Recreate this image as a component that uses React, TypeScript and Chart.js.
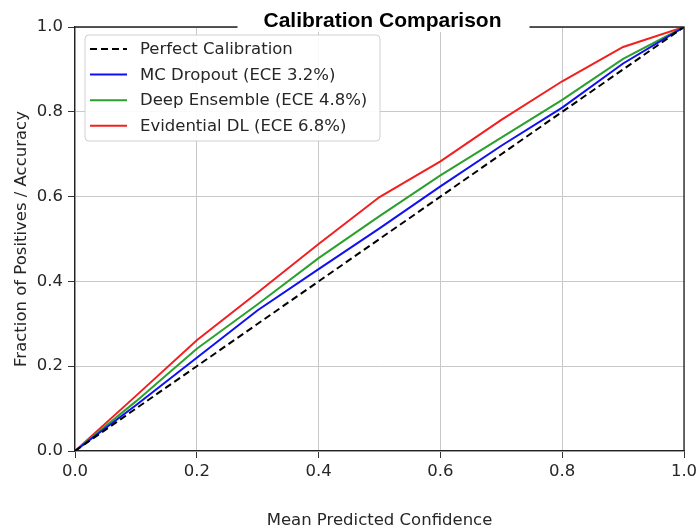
import React, { useEffect, useRef } from "react";
import { Chart, registerables } from "chart.js";

Chart.register(...registerables);

const titleText = "Calibration Comparison";
const xTitle = "Mean Predicted Confidence";
const yTitle = "Fraction of Positives / Accuracy";

const confidence = [0, 0.1, 0.2, 0.3, 0.4, 0.5, 0.6, 0.7, 0.8, 0.9, 1.0];
const perfect = [0, 0.1, 0.2, 0.3, 0.4, 0.5, 0.6, 0.7, 0.8, 0.9, 1.0];
const mcDropout = [0, 0.108, 0.22, 0.332, 0.429, 0.525, 0.624, 0.72, 0.81, 0.914, 1.0];
const deepEnsemble = [0, 0.117, 0.241, 0.346, 0.455, 0.554, 0.65, 0.739, 0.828, 0.925, 1.0];
const evidential = [0, 0.13, 0.261, 0.374, 0.488, 0.599, 0.683, 0.781, 0.872, 0.953, 1.0];

const seriesLabels = [
  "Perfect Calibration",
  "MC Dropout (ECE 3.2%)",
  "Deep Ensemble (ECE 4.8%)",
  "Evidential DL (ECE 6.8%)",
];
const tickValues = [0, 0.2, 0.4, 0.6, 0.8, 1.0];

const FONT = "'DejaVu Sans', sans-serif";
const FS = 16.5;

const toPoints = (ys: number[]) => confidence.map((x, i) => ({ x, y: ys[i] }));

const decorPlugin = {
  id: "decor",
  afterDatasetsDraw(chart: any) {
    const { ctx, chartArea: a } = chart;
    ctx.save();
    // top & right spines
    ctx.strokeStyle = "#222";
    ctx.lineWidth = 1.3;
    ctx.beginPath();
    ctx.moveTo(a.left, a.top);
    ctx.lineTo(a.right, a.top);
    ctx.lineTo(a.right, a.bottom);
    ctx.stroke();

    // legend box
    const lx = a.left + 10, ly = a.top + 8, lw = 295, lh = 106, r = 4;
    ctx.beginPath();
    ctx.moveTo(lx + r, ly);
    ctx.lineTo(lx + lw - r, ly);
    ctx.quadraticCurveTo(lx + lw, ly, lx + lw, ly + r);
    ctx.lineTo(lx + lw, ly + lh - r);
    ctx.quadraticCurveTo(lx + lw, ly + lh, lx + lw - r, ly + lh);
    ctx.lineTo(lx + r, ly + lh);
    ctx.quadraticCurveTo(lx, ly + lh, lx, ly + lh - r);
    ctx.lineTo(lx, ly + r);
    ctx.quadraticCurveTo(lx, ly, lx + r, ly);
    ctx.closePath();
    ctx.fillStyle = "rgba(255,255,255,0.9)";
    ctx.fill();
    ctx.strokeStyle = "#d0d0d0";
    ctx.lineWidth = 1;
    ctx.stroke();

    ctx.font = `${FS}px ${FONT}`;
    ctx.textBaseline = "middle";
    ctx.textAlign = "left";
    chart.data.datasets.forEach((ds: any, i: number) => {
      const cy = ly + 14 + i * 25.6;
      ctx.beginPath();
      ctx.setLineDash(ds.borderDash || []);
      ctx.strokeStyle = ds.borderColor;
      ctx.lineWidth = 2;
      ctx.moveTo(lx + 5, cy);
      ctx.lineTo(lx + 42, cy);
      ctx.stroke();
      ctx.setLineDash([]);
      ctx.fillStyle = "#262626";
      ctx.fillText(ds.label, lx + 55, cy + 1);
    });

    // title with white mask over the top spine
    const cx = (a.left + a.right) / 2 + 3;
    ctx.fillStyle = "#ffffff";
    ctx.fillRect(cx - 145, 0, 292, a.top + 5);
    ctx.font = `bold 21px 'Liberation Sans', Arial, sans-serif`;
    ctx.textAlign = "center";
    ctx.textBaseline = "alphabetic";
    ctx.fillStyle = "#000";
    ctx.fillText(titleText, cx, a.top - 0.5);
    ctx.restore();
  },
};

export default function App() {
  const ref = useRef<HTMLCanvasElement>(null);
  useEffect(() => {
    if (!ref.current) return;
    const tickFmt = (v: any) => Number(v).toFixed(1);
    const chart = new Chart(ref.current, {
      type: "line",
      data: {
        datasets: [
          {
            label: seriesLabels[0],
            data: toPoints(perfect),
            borderColor: "#000000",
            borderDash: [7, 4],
            borderWidth: 2,
          },
          {
            label: seriesLabels[1],
            data: toPoints(mcDropout),
            borderColor: "#1010f0",
            borderWidth: 2,
          },
          {
            label: seriesLabels[2],
            data: toPoints(deepEnsemble),
            borderColor: "#2ca02c",
            borderWidth: 2,
          },
          {
            label: seriesLabels[3],
            data: toPoints(evidential),
            borderColor: "#f02020",
            borderWidth: 2,
          },
        ] as any,
      },
      options: {
        responsive: false,
        animation: false,
        devicePixelRatio: 1,
        layout: { padding: { top: 27, right: 12, left: 0, bottom: 0 } },
        elements: { point: { radius: 0 }, line: { tension: 0 } },
        plugins: { legend: { display: false }, tooltip: { enabled: false }, title: { display: false } },
        scales: {
          x: {
            type: "linear",
            min: 0,
            max: 1,
            afterBuildTicks: (s: any) => {
              s.ticks = tickValues.map((v) => ({ value: v }));
            },
            afterFit: (s: any) => {
              s.height = 80;
              s.paddingLeft = 0;
              s.paddingRight = 0;
            },
            ticks: {
              callback: tickFmt,
              font: { family: FONT, size: FS },
              color: "#262626",
              padding: 4,
              maxRotation: 0,
            },
            grid: { color: "#c8c8c8", lineWidth: 1, tickLength: 7, tickColor: "#333", tickWidth: 1 },
            border: { display: true, color: "#222", width: 1.3 },
            title: {
              display: true,
              text: xTitle,
              font: { family: FONT, size: FS },
              color: "#262626",
              padding: { top: 0, bottom: 0 },
            },
          },
          y: {
            type: "linear",
            min: 0,
            max: 1,
            afterBuildTicks: (s: any) => {
              s.ticks = tickValues.map((v) => ({ value: v }));
            },
            afterFit: (s: any) => {
              s.width = 75;
              s.paddingTop = 0;
              s.paddingBottom = 0;
            },
            ticks: {
              callback: tickFmt,
              font: { family: FONT, size: FS },
              color: "#262626",
              padding: 5,
            },
            grid: { color: "#c8c8c8", lineWidth: 1, tickLength: 7, tickColor: "#333", tickWidth: 1 },
            border: { display: true, color: "#222", width: 1.3 },
            title: {
              display: true,
              text: yTitle,
              font: { family: FONT, size: FS },
              color: "#262626",
              padding: { top: 12, bottom: 0 },
            },
          },
        },
      } as any,
      plugins: [decorPlugin],
    });
    return () => chart.destroy();
  }, []);

  return (
    <div style={{ position: "fixed", left: 0, top: 0, width: 696, height: 531, background: "#fff" }}>
      <canvas ref={ref} width={696} height={531} style={{ display: "block" }} />
    </div>
  );
}
